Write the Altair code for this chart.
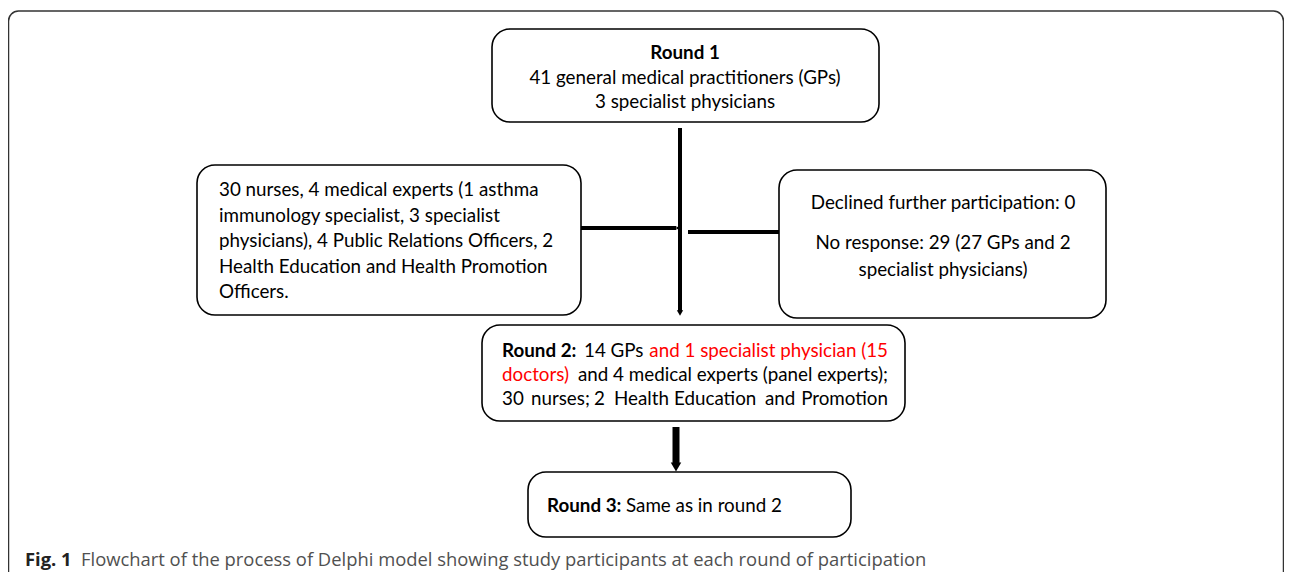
import altair as alt
import pandas as pd

# ---- content ----
round1_lines = ["Round 1", "41 general medical practitioners (GPs)", "3 specialist physicians"]
left_lines = ["30 nurses, 4 medical experts (1 asthma",
              "immunology specialist, 3 specialist",
              "physicians), 4 Public Relations Officers, 2",
              "Health Education and Health Promotion",
              "Officers."]
right_lines = ["Declined further participation: 0",
               "No response: 29 (27 GPs and 2",
               "specialist physicians)"]
round2_label = "Round 2:"
round2_black1 = "14 GPs"
round2_red1 = "and 1 specialist physician (15"
round2_red2 = "doctors)"
round2_black2 = "and 4 medical experts (panel experts);"
round2_line3_words = ["30", "nurses;", "2", "Health", "Education", "and", "Promotion"]
round3_label = "Round 3:"
round3_text = "Same as in round 2"
caption_bold = "Fig. 1"
caption_text = "Flowchart of the process of Delphi model showing study participants at each round of participation"

# ---- layout (page pixel coordinates) ----
W, H = 1276, 564
XD = [8, 8 + W]
YD = [8, 8 + H]
FONT = "Lato, Liberation Sans, sans-serif"
FS = 18.8

boxes = pd.DataFrame([
    dict(name="r1", x=492, x2=879, y=29, y2=122),
    dict(name="left", x=197, x2=581, y=165, y2=315),
    dict(name="right", x=779, x2=1106, y=170, y2=318),
    dict(name="r2", x=482, x2=905, y=325, y2=421),
    dict(name="r3", x=528, x2=851, y=472, y2=537),
])
frame = pd.DataFrame([dict(x=8.5, x2=1283.5, y=11, y2=600)])

lines = pd.DataFrame([
    dict(x=680, x2=680, y=128, y2=312, w=4),
    dict(x=581, x2=676, y=228, y2=228, w=4),
    dict(x=688, x2=782, y=232, y2=232, w=4),
    dict(x=676, x2=676, y=427, y2=464, w=7),
])
heads_down = pd.DataFrame([dict(x=680, y=313, s=40), dict(x=676, y=467, s=110)])
heads_right = pd.DataFrame([dict(x=784, y=232, s=50), dict(x=678, y=228, s=14)])

X = lambda f="x": alt.X(f"{f}:Q", scale=alt.Scale(domain=XD, nice=False, zero=False), axis=None)
Y = lambda f="y": alt.Y(f"{f}:Q", scale=alt.Scale(domain=YD, nice=False, zero=False, reverse=True), axis=None)

def texts(rows, align="left", bold=False, color="black", fs=FS, font=FONT):
    df = pd.DataFrame(rows, columns=["x", "y", "t"])
    return alt.Chart(df).mark_text(align=align, baseline="middle", fontSize=fs, font=font,
                                   fontWeight="bold" if bold else "normal", color=color).encode(
        x=X(), y=Y(), text="t:N")

frame_l = alt.Chart(frame).mark_rect(cornerRadius=10, fill="white", stroke="#333", strokeWidth=1.5, clip=True).encode(
    x=X(), x2="x2", y=Y(), y2="y2")
box_l = alt.Chart(boxes).mark_rect(cornerRadius=18, fill="white", stroke="black", strokeWidth=1.6).encode(
    x=X(), x2="x2", y=Y(), y2="y2")
line_l = alt.Chart(lines).mark_rule(color="black", strokeCap="butt").encode(
    x=X(), x2="x2", y=Y(), y2="y2", strokeWidth=alt.StrokeWidth("w:Q", scale=None, legend=None))
hd_l = alt.Chart(heads_down).mark_point(shape="triangle-down", filled=True, color="black", opacity=1).encode(
    x=X(), y=Y(), size=alt.Size("s:Q", scale=None, legend=None))
hr_l = alt.Chart(heads_right).mark_point(shape="triangle-right", filled=True, color="black", opacity=1).encode(
    x=X(), y=Y(), size=alt.Size("s:Q", scale=None, legend=None))

t_r1_bold = texts([(685, 53, round1_lines[0])], align="center", bold=True)
t_r1 = texts([(685, 78, round1_lines[1]), (685, 102, round1_lines[2])], align="center")
t_left = texts([(219, 190 + 25.5 * i, s) for i, s in enumerate(left_lines)])
t_right = texts([(943, 203, right_lines[0]), (943, 243, right_lines[1]), (943, 270, right_lines[2])], align="center")
t_r2_bold = texts([(502, 351, round2_label)], bold=True)
t_r2_black_l = texts([(584, 351, round2_black1)])
t_r2_black_r = texts([(888, 375, round2_black2)], align="right")
t_r2_red_r = texts([(888, 351, round2_red1)], align="right", color="#ff0000")
t_r2_red_l = texts([(502, 375, round2_red2)], color="#ff0000")
word_x = [502, 531, 594, 614, 674, 765]
t_r2_l3 = texts([(wx, 399, w) for wx, w in zip(word_x, round2_line3_words[:-1])])
t_r2_l3_end = texts([(888, 399, round2_line3_words[-1])], align="right")
t_r3_bold = texts([(547, 506, round3_label)], bold=True)
t_r3 = texts([(626, 506, round3_text)])
cap_font = "Open Sans, Noto Sans, sans-serif"
t_cap_b = texts([(25, 560, caption_bold)], bold=True, fs=18.4, font=cap_font, color="#222")
t_cap = texts([(81, 560, caption_text)], fs=18.4, font=cap_font, color="#505050")

chart = alt.layer(frame_l, line_l, hd_l, hr_l, box_l,
                  t_r1_bold, t_r1, t_left, t_right, t_r2_bold, t_r2_black_l, t_r2_black_r,
                  t_r2_red_r, t_r2_red_l, t_r2_l3, t_r2_l3_end,
                  t_r3_bold, t_r3, t_cap_b, t_cap).properties(
    width=W, height=H, padding=0, autosize=alt.AutoSizeParams(type="none"), background="white"
).configure_view(stroke=None)

chart.save("out.html", embed_options={"renderer": "svg", "actions": False})
